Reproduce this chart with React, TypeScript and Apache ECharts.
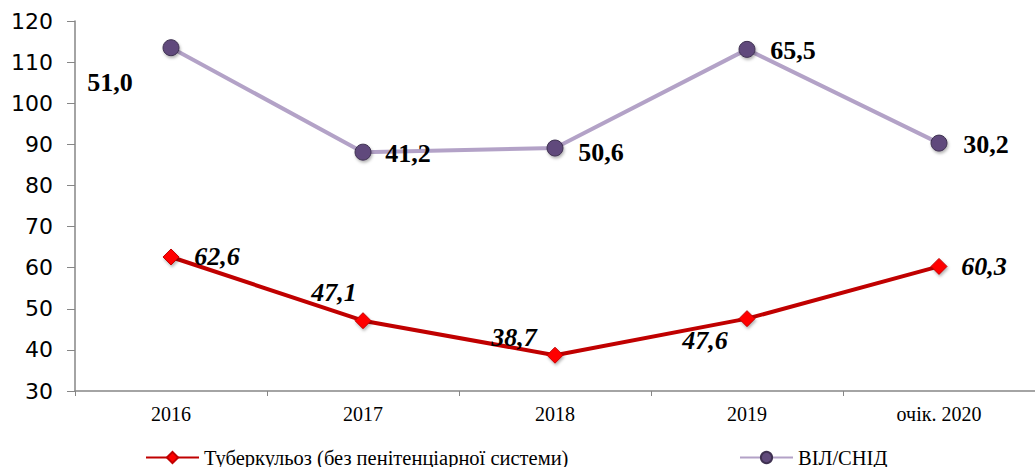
import React, { useEffect, useRef } from "react";
import * as echarts from "echarts";

const categories = ["2016", "2017", "2018", "2019", "очік. 2020"];
const tbValues = [62.6, 47.1, 38.7, 47.6, 60.3];
const hivValues = [113.5, 88.1, 89.1, 113.1, 90.3];
const hivLabels = ["51,0", "41,2", "50,6", "65,5", "30,2"];
const tbOffsets: [number, number][] = [[46, 0], [-29, -28], [-41, -18], [-42, 22], [45, 0]];
const hivOffsets: [number, number][] = [[-61, 35], [45, 1], [46, 4], [46, 1], [47, 1]];
const tbName = "Туберкульоз (без пенітенціарної системи)";
const hivName = "ВІЛ/СНІД";

export default function App() {
  const ref = useRef<HTMLDivElement>(null);
  useEffect(() => {
    if (!ref.current) return;
    const chart = echarts.init(ref.current, null, { renderer: "svg" });
    const serif = "'Liberation Serif', 'Times New Roman', serif";
    const labelBase = {
      show: true,
      position: "inside",
      align: "center",
      verticalAlign: "middle",
      fontFamily: serif,
      fontSize: 26,
      fontWeight: "bold",
      color: "#000",
    };
    const legendText = { fontFamily: serif, fontSize: 20.5, color: "#000" };
    chart.setOption({
      animation: false,
      grid: { left: 75, width: 964, top: 21, bottom: 76, containLabel: false },
      legend: [
        {
          data: [tbName],
          left: 145,
          top: 447,
          padding: 0,
          itemWidth: 53,
          itemHeight: 14,
          itemGap: 5,
          textStyle: legendText,
        },
        {
          data: [hivName],
          left: 739,
          top: 447,
          padding: 0,
          itemWidth: 53,
          itemHeight: 14,
          textStyle: legendText,
        },
      ],
      xAxis: {
        type: "category",
        data: categories,
        boundaryGap: true,
        axisLine: { lineStyle: { color: "#868686", width: 1.5 } },
        axisTick: { show: true, length: 5, lineStyle: { color: "#868686" } },
        axisLabel: { fontFamily: serif, fontSize: 20, color: "#000", margin: 13 },
      },
      yAxis: {
        type: "value",
        min: 30,
        max: 120,
        interval: 10,
        splitLine: { show: false },
        axisLine: { show: true, lineStyle: { color: "#868686", width: 1.5 } },
        axisTick: { show: true, length: 8, lineStyle: { color: "#868686" } },
        axisLabel: { fontFamily: "'DejaVu Sans', Verdana, sans-serif", fontSize: 22, color: "#000", margin: 22 },
      },
      series: [
        {
          name: tbName,
          type: "line",
          data: tbValues.map((v, i) => ({
            value: v,
            label: {
              ...labelBase,
              fontStyle: "italic",
              offset: tbOffsets[i],
              formatter: v.toFixed(1).replace(".", ","),
            },
          })),
          symbol: "diamond",
          symbolSize: 16,
          lineStyle: { color: "#C00000", width: 4 },
          itemStyle: {
            color: "#FF0000",
            borderColor: "#C00000",
            borderWidth: 1,
            shadowColor: "rgba(0,0,0,0.3)",
            shadowBlur: 3,
            shadowOffsetX: 1,
            shadowOffsetY: 2,
          },
          z: 3,
        },
        {
          name: hivName,
          type: "line",
          data: hivValues.map((v, i) => ({
            value: v,
            label: { ...labelBase, offset: hivOffsets[i], formatter: hivLabels[i] },
          })),
          symbol: "circle",
          symbolSize: 16,
          lineStyle: { color: "#B3A2C7", width: 4 },
          itemStyle: {
            color: "#604A7B",
            borderColor: "#3F3151",
            borderWidth: 1,
            shadowColor: "rgba(0,0,0,0.3)",
            shadowBlur: 3,
            shadowOffsetX: 1,
            shadowOffsetY: 2,
          },
          z: 3,
        },
      ],
    });
    return () => chart.dispose();
  }, []);
  return <div ref={ref} style={{ width: 1035, height: 467, position: "absolute", left: 0, top: 0 }} />;
}
